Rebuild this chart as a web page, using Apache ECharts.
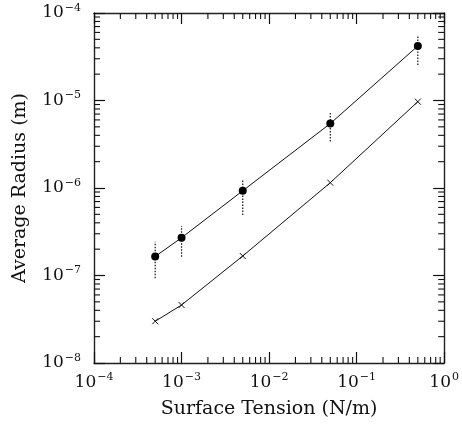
<!DOCTYPE html>
<html>
<head>
<meta charset="utf-8">
<script src="https://cdn.jsdelivr.net/npm/echarts@6/dist/echarts.min.js"></script>
<style>html,body{margin:0;padding:0;background:#fff}#c{width:462px;height:430px}</style>
</head>
<body>
<div id="c"></div>
<script>
// Data
var tension = [5e-4, 1e-3, 5e-3, 5e-2, 5e-1];
var radiusMeasured = [1.65e-7, 2.7e-7, 9.3e-7, 5.45e-6, 4.2e-5];
var radiusErrLow = [9.3e-8, 1.64e-7, 4.9e-7, 3.4e-6, 2.55e-5];
var radiusErrHigh = [2.43e-7, 3.68e-7, 1.26e-6, 7.45e-6, 5.6e-5];
var radiusPredicted = [3.0e-8, 4.6e-8, 1.67e-7, 1.15e-6, 9.7e-6];
var xMin = 1e-4, xMax = 1, yMin = 1e-8, yMax = 1e-4;
var minorMultipliers = [2, 3, 4, 5, 6, 7, 8, 9];
var xDecades = [1e-4, 1e-3, 1e-2, 1e-1];
var yDecades = [1e-8, 1e-7, 1e-6, 1e-5];

var FONT = 'DejaVu Serif';
var ink = '#111';

var minorTicks = [];
xDecades.forEach(function (d) { minorMultipliers.forEach(function (m) { minorTicks.push([m * d, yMin, 0]); }); });
yDecades.forEach(function (d) { minorMultipliers.forEach(function (m) { minorTicks.push([xMin, m * d, 1]); }); });

var errData = tension.map(function (x, i) { return [x, radiusErrLow[i], radiusErrHigh[i]]; });

function powLabel(v) {
  var e = Math.round(Math.log10(v));
  var s = e < 0 ? '\u2212' + Math.abs(e) : String(e);
  return '{a|10}{b|' + s + '}';
}
var rich = {
  a: { fontFamily: FONT, fontSize: 17, color: ink },
  b: { fontFamily: FONT, fontSize: 11, color: ink, padding: [0, 0, 10, 1] }
};

function axisBase(pos, isX, showLabel) {
  return {
    type: 'log', logBase: 10,
    min: isX ? xMin : yMin, max: isX ? xMax : yMax,
    position: pos,
    splitLine: { show: false },
    axisLine: { show: true, lineStyle: { color: '#222', width: 1.4 } },
    axisTick: { show: true, inside: true, length: 11, lineStyle: { color: ink, width: 1.2 } },
    axisLabel: { show: showLabel, formatter: powLabel, rich: rich, margin: isX ? 9 : 13 },
    minorTick: { show: false },
    axisPointer: { show: false }
  };
}

var xA = axisBase('bottom', true, true);
xA.name = 'Surface Tension (N/m)';
xA.nameLocation = 'middle';
xA.nameGap = 37;
xA.nameTextStyle = { fontFamily: FONT, fontSize: 19, color: ink };
var xB = axisBase('top', true, false);
var yA = axisBase('left', false, true);
yA.name = 'Average Radius (m)';
yA.nameLocation = 'middle';
yA.nameGap = 64;
yA.nameTextStyle = { fontFamily: FONT, fontSize: 19, color: ink };
var yB = axisBase('right', false, false);

var chart = echarts.init(document.getElementById('c'), null, { renderer: 'canvas' });
chart.setOption({
  animation: false,
  backgroundColor: '#fff',
  grid: { left: 94, top: 13, width: 352, height: 350, containLabel: false },
  xAxis: [xA, xB],
  yAxis: [yA, yB],
  series: [
    {
      type: 'custom', silent: true, clip: false, xAxisIndex: 0, yAxisIndex: 0,
      data: minorTicks,
      renderItem: function (params, api) {
        var kind = api.value(2), L = 6;
        var ls = { stroke: ink, lineWidth: 1.1 };
        if (kind === 0) {
          var x = api.value(0);
          var b = api.coord([x, yMin]), t = api.coord([x, yMax]);
          return { type: 'group', children: [
            { type: 'line', shape: { x1: b[0], y1: b[1], x2: b[0], y2: b[1] - L }, style: ls },
            { type: 'line', shape: { x1: t[0], y1: t[1], x2: t[0], y2: t[1] + L }, style: ls }
          ] };
        } else {
          var y = api.value(1);
          var l = api.coord([xMin, y]), r = api.coord([xMax, y]);
          return { type: 'group', children: [
            { type: 'line', shape: { x1: l[0], y1: l[1], x2: l[0] + L, y2: l[1] }, style: ls },
            { type: 'line', shape: { x1: r[0], y1: r[1], x2: r[0] - L, y2: r[1] }, style: ls }
          ] };
        }
      }
    },
    {
      type: 'custom', silent: true, xAxisIndex: 0, yAxisIndex: 0,
      data: errData,
      encode: { x: 0, y: [1, 2] },
      renderItem: function (params, api) {
        var lo = api.coord([api.value(0), api.value(1)]);
        var hi = api.coord([api.value(0), api.value(2)]);
        return { type: 'line', shape: { x1: lo[0], y1: lo[1], x2: hi[0], y2: hi[1] },
          style: { stroke: ink, lineWidth: 1.2, lineDash: [1.5, 1.5] } };
      }
    },
    {
      type: 'line', xAxisIndex: 0, yAxisIndex: 0,
      data: tension.map(function (x, i) { return [x, radiusMeasured[i]]; }),
      symbol: 'circle', symbolSize: 8,
      lineStyle: { color: ink, width: 1 },
      itemStyle: { color: '#000' }
    },
    {
      type: 'line', xAxisIndex: 0, yAxisIndex: 0,
      data: tension.map(function (x, i) { return [x, radiusPredicted[i]]; }),
      symbol: 'path://M0,0L10,10M10,0L0,10', symbolSize: 6,
      lineStyle: { color: ink, width: 1 },
      itemStyle: { color: 'none', borderColor: ink, borderWidth: 1 }
    }
  ]
});
</script>
</body>
</html>
